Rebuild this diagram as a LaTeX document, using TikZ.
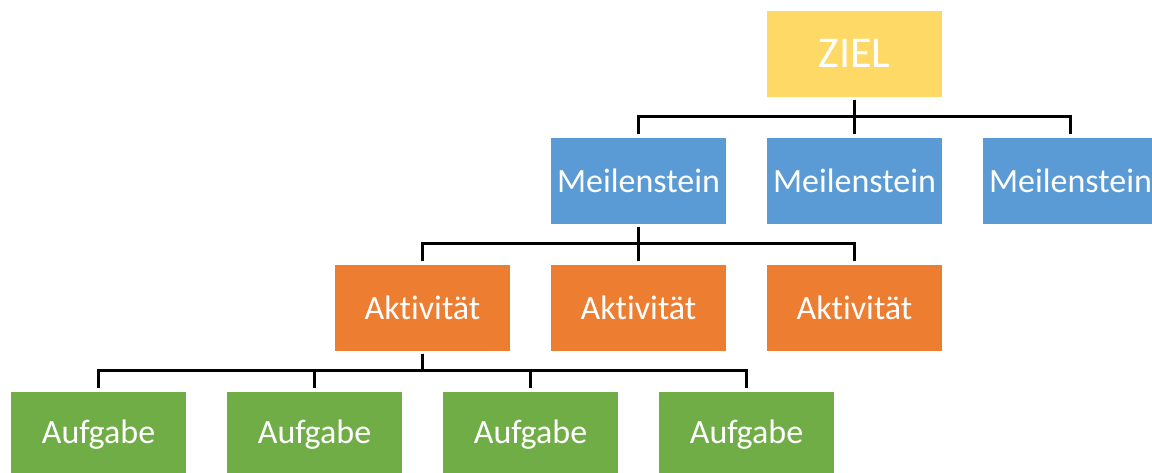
\documentclass[tikz,border=0pt]{standalone}
\usepackage{fontspec}
\setmainfont{Carlito}[Ligatures={NoCommon,NoContextual}]

\definecolor{zielgelb}{HTML}{FFD966}
\definecolor{meilenblau}{HTML}{5B9BD5}
\definecolor{aktorange}{HTML}{ED7D31}
\definecolor{aufgruen}{HTML}{70AD47}

\begin{document}
\begin{tikzpicture}
[
    box/.style={minimum width=175pt, minimum height=86pt, inner sep=0pt, text=white, font=\fontsize{34}{40}\selectfont},
    ziel/.style={box, fill=zielgelb, font=\fontsize{44}{52}\selectfont},
    meilen/.style={box, fill=meilenblau},
    akt/.style={box, fill=aktorange},
    auf/.style={box, fill=aufgruen},
    level distance=127pt,
    sibling distance=216pt,
    edge from parent/.style={draw, line width=2.5pt},
    edge from parent path={([yshift=-3pt]\tikzparentnode.south) -- ++(0,-17pt) -| ([yshift=3pt]\tikzchildnode.north)},
]
\clip (0,0) rectangle (1152pt,-472pt);
\node [ziel] (ziel) at (854.5pt,-53.5pt)
{ZIEL}
    child {node[meilen] (ms1)
{Meilenstein}
    child {node[akt] (akt1)
{Aktivität}
    child {node[auf] (auf1) {Aufgabe}}
    child {node[auf] (auf2) {Aufgabe}}
    child {node[auf] (auf3) {Aufgabe}}
    child {node[auf] (auf4) {Aufgabe}}
}   child {node[akt] (akt2)
{Aktivität}
}   child {node[akt] (akt3)
{Aktivität}
}}  child {node[meilen] (ms2)
{Meilenstein}
}   child {node[meilen] (ms3)
{Meilenstein}
};
\end{tikzpicture}
\end{document}
